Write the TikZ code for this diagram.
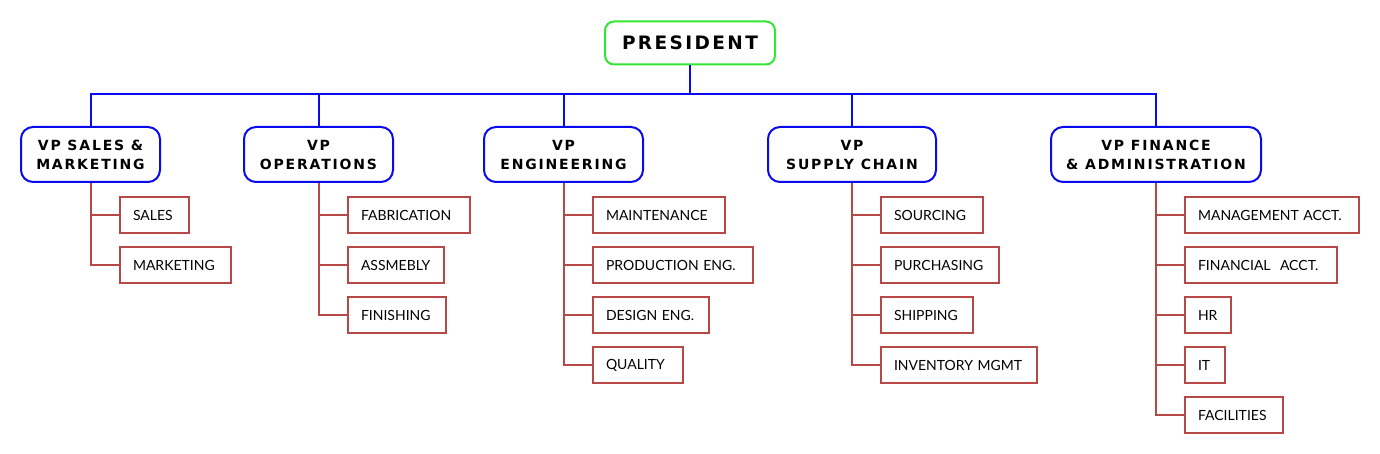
\documentclass[tikz,border=0pt]{standalone}
\usepackage{fontspec}
\setmainfont{Lato}
\newfontfamily\vpfont[LetterSpace=13]{DejaVu Sans}
\newfontfamily\unitfont{Lato}
\definecolor{presgreen}{RGB}{51,230,51}
\definecolor{vpblue}{RGB}{10,10,238}
\definecolor{unitred}{RGB}{184,72,72}
\newcommand\oneline[1]{\mbox{#1}}
\begin{document}
\begin{tikzpicture}[x=1pt,y=-1pt,
  pres/.style={draw=presgreen, line width=2pt, rounded corners=9pt, fill=white,
    font=\vpfont\bfseries\fontsize{18.5}{20}\selectfont, minimum width=170pt, minimum height=43pt, inner sep=0pt},
  vp/.style={draw=vpblue, line width=2pt, rounded corners=12pt, fill=white,
    font=\vpfont\bfseries\fontsize{14}{19}\selectfont, align=center, minimum height=55pt, inner sep=0pt},
  unit/.style={draw=unitred, line width=2pt, fill=white, minimum height=36pt, anchor=west,
    font=\unitfont\fontsize{14}{16}\selectfont, align=left, inner xsep=13pt, inner ysep=0pt},
  blink/.style={draw=vpblue, line width=2pt},
  rlink/.style={draw=unitred, line width=2pt},
]
\useasboundingbox (0,0) rectangle (1380,454);

\node[pres] (pres) at (690,43) {PRESIDENT};
\coordinate (bus) at (690,94);

\node[vp, minimum width=139pt] (vp1) at (90.5,154.5) {VP SALES \&\\MARKETING};
\node[vp, minimum width=149pt] (vp2) at (318.5,154.5) {VP\\OPERATIONS};
\node[vp, minimum width=159pt] (vp3) at (563.5,154.5) {VP\\ENGINEERING};
\node[vp, minimum width=168pt] (vp4) at (852,154.5) {VP\\SUPPLY CHAIN};
\node[vp, minimum width=210pt] (vp5) at (1156,154.5) {VP FINANCE\\\& ADMINISTRATION};

\draw[blink] (pres.south) -- (bus);
\draw[blink] (vp1.north) -- (vp1.north |- bus) -- (vp5.north |- bus) -- (vp5.north);
\draw[blink] (vp2.north) -- (vp2.north |- bus);
\draw[blink] (vp3.north) -- (vp3.north |- bus);
\draw[blink] (vp4.north) -- (vp4.north |- bus);

% Sales & Marketing
\node[unit, minimum width=69pt, text width=43pt] (s1) at (119,215) {\oneline{SALES}};
\node[unit, minimum width=111pt, text width=85pt] (s2) at (119,265) {\oneline{MARKETING}};
% Operations
\node[unit, minimum width=122pt, text width=96pt] (o1) at (347,215) {\oneline{FABRICATION}};
\node[unit, minimum width=96pt, text width=70pt] (o2) at (347,265) {\oneline{ASSMEBLY}};
\node[unit, minimum width=98pt, text width=72pt] (o3) at (347,315) {\oneline{FINISHING}};
% Engineering
\node[unit, minimum width=132pt, text width=106pt] (e1) at (592,215) {\oneline{MAINTENANCE}};
\node[unit, minimum width=160pt, text width=134pt] (e2) at (592,265) {\oneline{PRODUCTION ENG.}};
\node[unit, minimum width=116pt, text width=90pt] (e3) at (592,315) {\oneline{DESIGN ENG.}};
\node[unit, minimum width=90pt, text width=64pt] (e4) at (592,365) {\oneline{QUALITY}};
% Supply chain
\node[unit, minimum width=102pt, text width=76pt] (c1) at (880,215) {\oneline{SOURCING}};
\node[unit, minimum width=118pt, text width=92pt] (c2) at (880,265) {\oneline{PURCHASING}};
\node[unit, minimum width=92pt, text width=66pt] (c3) at (880,315) {\oneline{SHIPPING}};
\node[unit, minimum width=156pt, text width=130pt] (c4) at (880,365) {\oneline{INVENTORY MGMT}};
% Finance
\node[unit, minimum width=174pt, text width=148pt] (f1) at (1184,215) {\oneline{MANAGEMENT ACCT.}};
\node[unit, minimum width=152pt, text width=126pt] (f2) at (1184,265) {\oneline{FINANCIAL\ \ ACCT.}};
\node[unit, minimum width=46pt, text width=20pt] (f3) at (1184,315) {\oneline{HR}};
\node[unit, minimum width=40pt, text width=14pt] (f4) at (1184,365) {\oneline{IT}};
\node[unit, minimum width=98pt, text width=72pt] (f5) at (1184,415) {\oneline{FACILITIES}};

\foreach \v/\c in {vp1/s1,vp1/s2,vp2/o1,vp2/o2,vp2/o3,vp3/e1,vp3/e2,vp3/e3,vp3/e4,
                   vp4/c1,vp4/c2,vp4/c3,vp4/c4,vp5/f1,vp5/f2,vp5/f3,vp5/f4,vp5/f5}
  \draw[rlink] (\v.south) |- (\c.west);
\end{tikzpicture}
\end{document}
